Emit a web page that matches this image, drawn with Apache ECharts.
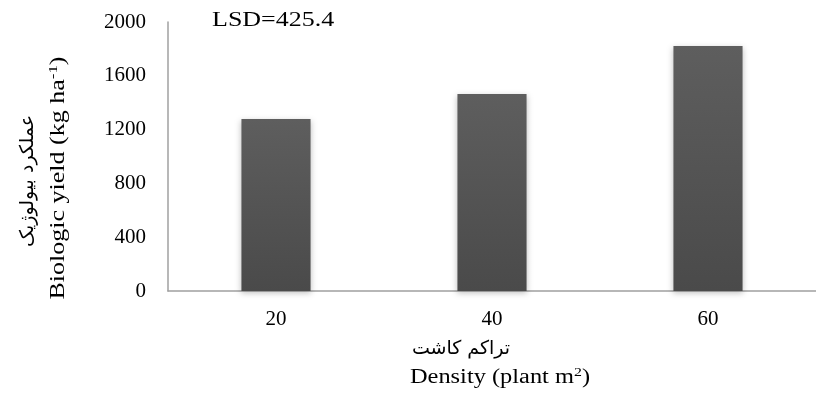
<!DOCTYPE html>
<html>
<head>
<meta charset="utf-8">
<script src="https://cdn.jsdelivr.net/npm/echarts@6/dist/echarts.min.js"></script>
<style>html,body{margin:0;padding:0;background:#fff}#c{width:816px;height:401px}</style>
</head>
<body>
<div id="c"></div>
<script>
const categories = ['20', '40', '60'];
const yieldValues = [1279, 1465, 1822];
const yTicks = [0, 400, 800, 1200, 1600, 2000];
const lsdText = 'LSD=425.4';

const serif = "'Liberation Serif', 'Times New Roman', serif";
const chart = echarts.init(document.getElementById('c'), null, {renderer: 'canvas'});
chart.setOption({
  animation: false,
  backgroundColor: '#fff',
  grid: {left: 168, top: 22, width: 660, height: 269, containLabel: false},
  xAxis: {
    type: 'category', data: categories,
    axisLine: {show: true, lineStyle: {color: '#a0a0a0', width: 1.5}},
    axisTick: {show: false},
    axisLabel: {margin: 18, fontSize: 21, color: '#000', fontFamily: serif}
  },
  yAxis: {
    type: 'value', min: yTicks[0], max: yTicks[yTicks.length - 1], interval: yTicks[1] - yTicks[0],
    axisLine: {show: true, lineStyle: {color: '#a0a0a0', width: 1.5}},
    axisTick: {show: false},
    splitLine: {show: false},
    axisLabel: {margin: 22, fontSize: 21, color: '#000', fontFamily: serif, formatter: v => String(v)}
  },
  series: [{
    type: 'bar', data: yieldValues, barWidth: '32%',
    itemStyle: {
      color: new echarts.graphic.LinearGradient(0, 0, 0, 1, [
        {offset: 0, color: '#5e5e5e'}, {offset: 1, color: '#4a4a4a'}
      ]),
      shadowBlur: 6, shadowColor: 'rgba(0,0,0,0.25)', shadowOffsetY: 2
    }
  }],
  graphic: [
    {type: 'text', x: 212, y: 21, scaleX: 1.3,
     style: {text: lsdText, fontSize: 20, fontFamily: serif, fill: '#000', textAlign: 'left', textVerticalAlign: 'middle'}},
    {type: 'text', x: 59, y: 178, rotation: Math.PI / 2, scaleX: 1.3,
     style: {text: '{n|Biologic yield (kg ha}{s|-1}{n|)}', textAlign: 'center', textVerticalAlign: 'middle',
       rich: {n: {fontSize: 20, fontFamily: serif, color: '#000', lineHeight: 24},
              s: {fontSize: 13, fontFamily: serif, color: '#000', lineHeight: 12, verticalAlign: 'top'}}}},
    {type: 'text', x: 28, y: 181, rotation: Math.PI / 2,
     style: {text: 'عملکرد بیولوژیک', fontSize: 19, fontFamily: 'DejaVu Sans', fill: '#000', textAlign: 'center', textVerticalAlign: 'middle'}},
    {type: 'text', x: 461, y: 349,
     style: {text: 'تراکم کاشت', fontSize: 19, fontFamily: 'DejaVu Sans', fill: '#000', textAlign: 'center', textVerticalAlign: 'middle'}},
    {type: 'text', x: 500, y: 378, scaleX: 1.22,
     style: {text: '{n|Density (plant m}{s|2}{n|)}', textAlign: 'center', textVerticalAlign: 'middle',
       rich: {n: {fontSize: 20, fontFamily: serif, color: '#000', lineHeight: 24},
              s: {fontSize: 13, fontFamily: serif, color: '#000', lineHeight: 12, verticalAlign: 'top'}}}}
  ]
});
</script>
</body>
</html>
